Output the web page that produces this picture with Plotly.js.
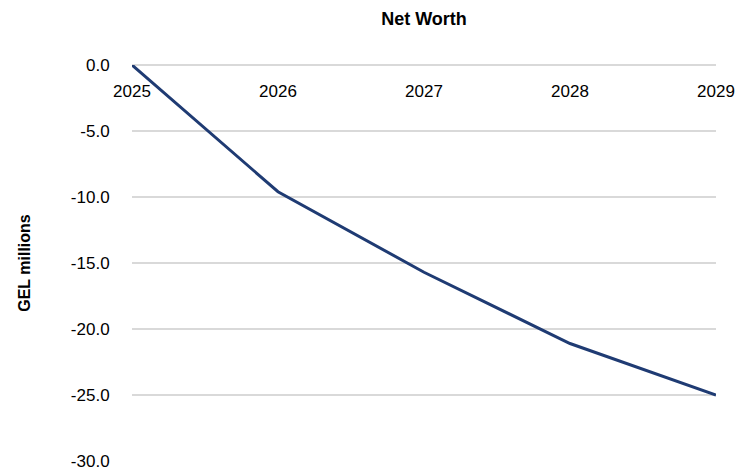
<!DOCTYPE html>
<html>
<head>
<meta charset="utf-8">
<script src="https://cdn.plot.ly/plotly-3.0.1.min.js"></script>
<style>html,body{margin:0;padding:0;background:#fff;}#chart{width:747px;height:473px;}</style>
</head>
<body>
<div id="chart"></div>
<script>
const years = ['2025', '2026', '2027', '2028', '2029'];
const netWorth = [0.0, -9.6, -15.7, -21.1, -25.0];
const yTicks = [0, -5, -10, -15, -20, -25, -30];
const yTickLabels = ['0.0', '-5.0', '-10.0', '-15.0', '-20.0', '-25.0', '-30.0'];

const FONT = '"Liberation Sans", Arial, sans-serif';

const trace = {
  x: years,
  y: netWorth,
  type: 'scatter',
  mode: 'lines',
  line: {color: '#1F3B73', width: 3},
  hoverinfo: 'skip'
};

const layout = {
  width: 747, height: 473,
  margin: {l: 132, r: 31, t: 64.5, b: 12},
  paper_bgcolor: '#fff', plot_bgcolor: '#fff',
  showlegend: false,
  title: {text: '<b>Net Worth</b>', x: 0.5, xref: 'paper', xanchor: 'center', y: 0.96, yref: 'container', yanchor: 'middle',
          font: {family: FONT, size: 18, color: '#000'}},
  xaxis: {
    type: 'category',
    range: [0, 4],
    anchor: 'free', position: 1, side: 'bottom',
    showgrid: false, showline: false, zeroline: false,
    ticks: 'outside', ticklen: 11, tickcolor: 'rgba(0,0,0,0)',
    tickfont: {family: FONT, size: 17, color: '#000'},
    ticklabeloverflow: 'allow',
    fixedrange: true
  },
  yaxis: {
    range: [-30, 0],
    tickvals: yTicks, ticktext: yTickLabels,
    showgrid: true, gridcolor: '#D9D9D9', gridwidth: 1.5,
    zeroline: true, zerolinecolor: '#D9D9D9', zerolinewidth: 1.5,
    showline: false,
    ticks: 'outside', ticklen: 18, tickcolor: 'rgba(0,0,0,0)',
    tickfont: {family: FONT, size: 17, color: '#000'},
    title: {text: '<b>GEL millions</b>', font: {family: FONT, size: 16, color: '#000'}, standoff: 36},
    fixedrange: true
  }
};

Plotly.newPlot('chart', [trace], layout, {displayModeBar: false, staticPlot: true});
</script>
</body>
</html>
